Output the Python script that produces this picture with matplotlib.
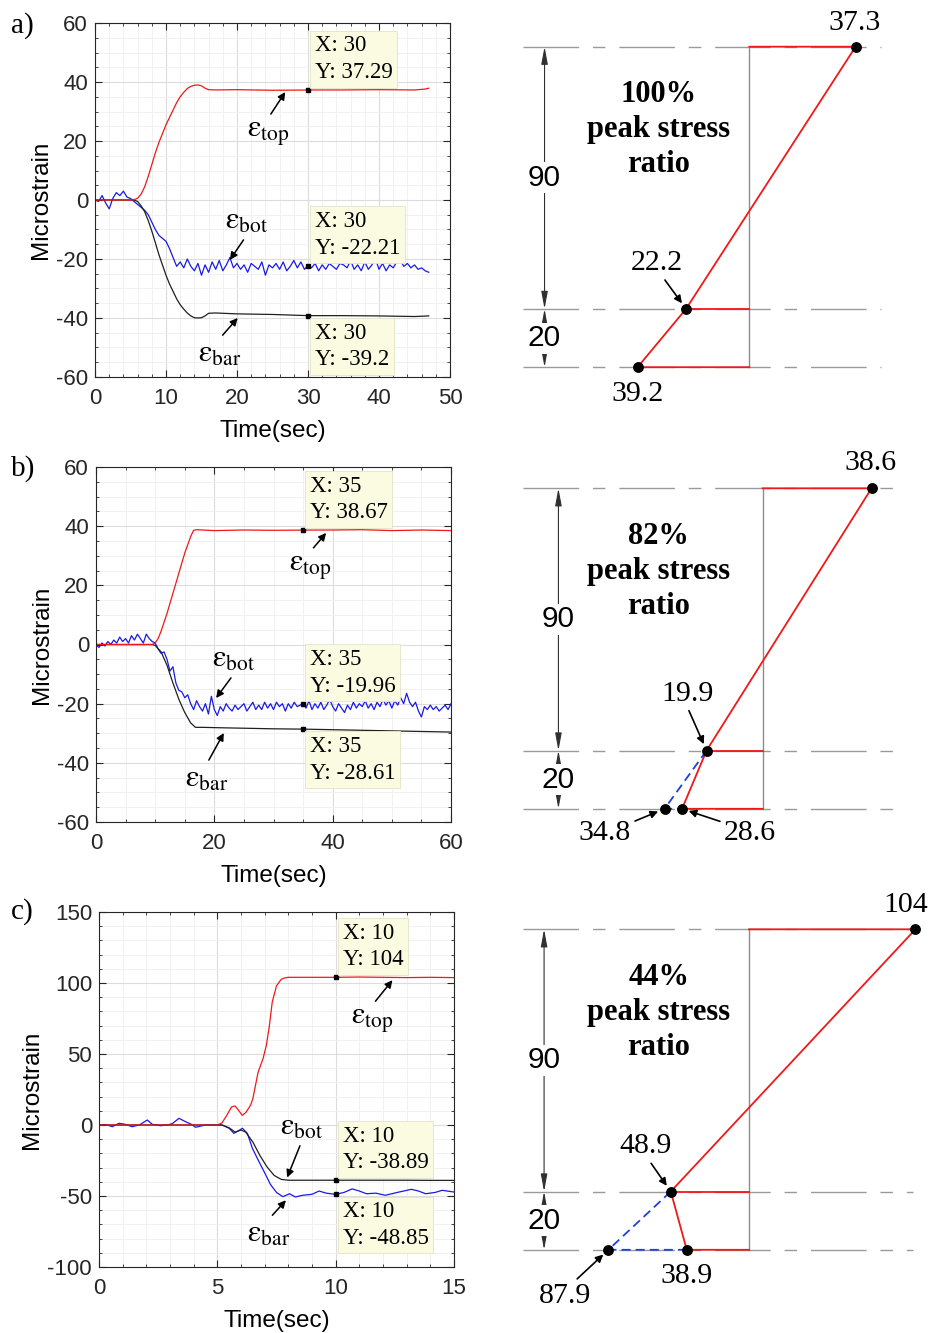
"""Strain histories (left) and strain profiles through the section (right)."""

import matplotlib

matplotlib.use("Agg")
import matplotlib.pyplot as plt
import matplotlib.transforms as mtransforms
import numpy as np
from matplotlib.ticker import AutoMinorLocator, MultipleLocator

W, H, DPI = 933, 1333, 100

plt.rcParams["font.family"] = ["Liberation Sans", "DejaVu Sans"]
plt.rcParams["mathtext.fontset"] = "stix"
plt.rcParams["axes.unicode_minus"] = False
SERIF = ["Liberation Serif", "DejaVu Serif"]

RED, BLUE, BLACK = "#f01818", "#1a1ae6", "#202020"

# ---------------- panel a: strain histories ----------------
T_TOP_A = [0, 5, 5.5, 6, 6.5, 7, 7.5, 8, 8.5, 9, 9.5, 10, 10.5, 11, 11.5, 12,
           12.5, 13, 13.5, 14, 14.5, 15, 15.5, 16, 17, 20, 25, 30, 35, 40, 45,
           46.5, 47]
EPS_TOP_A = [0, 0, 0.1, 0.6, 2, 4.5, 8, 12, 16, 19.5, 22.5, 25.5, 28, 30.5, 33,
             35, 36.5, 37.8, 38.5, 38.9, 39, 38.7, 37.9, 37.4, 37.3, 37.4, 37.2,
             37.29, 37.3, 37.4, 37.3, 37.6, 37.9]
T_BAR_A = [0, 5.5, 6, 6.5, 7, 7.5, 8, 8.5, 9, 9.5, 10, 10.5, 11, 11.5, 12, 12.5,
           13, 13.5, 14, 14.5, 15, 15.5, 16, 17, 20, 25, 30, 35, 40, 45, 47]
EPS_BAR_A = [0, 0, -0.5, -2, -4, -7, -10.5, -14.5, -18.5, -22, -25.5, -28.5,
             -31, -33.5, -35.5, -37, -38.3, -39.3, -39.9, -40, -39.9, -39.3,
             -38.4, -38.3, -38.6, -38.8, -39.2, -39.2, -39.3, -39.5, -39.3]
EPS_BOT_A = [0, -0.5, 1.5, -1, -3, 0.5, 2.5, 1.5, 3, 1,
             0.5, -0.5, -1.5, -2.5, -3.5, -5, -7.5, -10, -12, -13,
             -14, -16.5, -19.5, -22.5, -21, -23, -20, -22.5, -24, -21.5,
             -25.5, -22, -24.5, -21, -23.5, -20.5, -24, -22, -19.5, -23,
             -21.5, -23.5, -22, -24.5, -21.5, -22.5, -23.5, -21, -25.5, -22,
             -23, -21.5, -23.5, -21, -24, -22.5, -20.5, -23, -21, -23.5,
             -22.21, -23, -21.5, -24, -22, -23.5, -21.5, -22.5, -23.5, -21.5,
             -22, -23, -20.5, -23.5, -22, -24, -21, -23.5, -22, -20,
             -23.5, -21.5, -24, -22, -23, -21, -20.5, -22.5, -21.5, -23,
             -22, -23.5, -23, -24, -24.5]
T_BOT_A = np.arange(len(EPS_BOT_A)) * 0.5
TIPS_A = [37.29, -22.21, -39.2]

# ---------------- panel b ----------------
T_TOP_B = [0, 9.5, 10, 10.5, 11, 12, 13, 14, 15, 16, 16.5, 17, 20, 25, 30, 35,
           40, 45, 50, 55, 60]
EPS_TOP_B = [0, 0, 0.5, 2, 4.5, 10.5, 17.3, 24.1, 30.9, 36.5, 38.6, 38.8, 38.5,
             38.7, 38.6, 38.67, 38.7, 38.8, 38.5, 38.7, 38.5]
T_BAR_B = [0, 9.5, 10, 11, 12, 13, 14, 15, 16, 16.8, 18, 20, 25, 30, 35, 40,
           45, 50, 55, 60]
EPS_BAR_B = [0, 0, -0.3, -2.5, -7, -13, -18.5, -23, -26.5, -28, -28, -28.1,
             -28.3, -28.5, -28.61, -28.8, -29, -29.2, -29.4, -29.6]
EPS_BOT_B = [0, -1, 0.5, -0.5, 1, 0, 1.5, 0.5, 2.5, 1,
             2, 0.5, 3, 1.5, 3.5, 2, 0.5, 3.5, 2, 1,
             0.5, -1.5, -3, -2.5, -5, -9, -7.5, -13, -15.5, -16,
             -18, -17, -20, -22, -19, -21, -22.5, -20, -23.5, -17.5,
             -22, -24, -21, -22.5, -20, -21.5, -22.5, -20.5, -22, -21,
             -20, -22.5, -21, -19.5, -22, -20.5, -22, -19.5, -21.5, -20,
             -22, -19.5, -21, -20, -22.5, -20, -21.5, -19.5, -21, -20.5,
             -19.96, -21.5, -19, -22, -20, -21.5, -19.5, -22, -20.5, -18.5,
             -21, -22.5, -20, -21.5, -23, -20.5, -22, -19.5, -21.5, -20,
             -21, -19, -21.5, -20, -22, -19.5, -21, -18.5, -20.5, -19,
             -21.5, -19, -20.5, -18, -20, -16.5, -19.5, -21, -19.5, -22.5,
             -24.5, -21, -22, -20.5, -22, -21, -22.5, -21.5, -20.5, -22,
             -20]
T_BOT_B = np.arange(len(EPS_BOT_B)) * 0.5
TIPS_B = [38.67, -19.96, -28.61]

# ---------------- panel c ----------------
T_TOP_C = [0, 5, 5.2, 5.4, 5.6, 5.75, 5.9, 6.05, 6.2, 6.4, 6.5, 6.72, 6.93,
           7.07, 7.2, 7.32, 7.5, 7.7, 7.85, 8, 9, 10, 11, 12, 13, 14, 15]
EPS_TOP_C = [0, 0, 1.6, 6.8, 12.7, 13.4, 10.3, 6.8, 8.7, 13.8, 18.5, 37, 46.7,
             56, 70, 86.6, 98, 102.6, 103.6, 104, 104, 104, 104.2, 104, 103.8,
             104, 103.8]
T_BAR_C = [0, 5.2, 5.5, 5.75, 6.0, 6.2, 6.5, 6.8, 7.1, 7.4, 7.7, 8, 9, 10, 11,
           12, 13, 14, 15]
EPS_BAR_C = [0, 0, -2, -5, -3.5, -5, -12, -21.5, -29.5, -35.5, -38.3, -38.9,
             -38.9, -38.89, -38.9, -38.9, -38.9, -39, -39]
T_BOT_C = [0, 0.3, 0.56, 0.85, 1.1, 1.4, 1.7, 2.04, 2.25, 2.6,
           2.9, 3.1, 3.38, 3.66, 3.9, 4.08, 4.5, 4.93, 5.2, 5.5,
           5.7, 5.9, 6.06, 6.27, 6.48, 6.76, 7.04, 7.25, 7.5, 7.77,
           8.05, 8.3, 8.6, 9.0, 9.3, 9.6, 10, 10.35, 10.7, 11.0,
           11.3, 11.7, 12.1, 12.6, 13.2, 13.5, 13.8, 14.2, 14.5, 15]
EPS_BOT_C = [0, 0.3, -1.2, 1.2, 0.5, -1.2, 0, 3.5, 0.5, -0.5,
             0, 1, 4.7, 2.3, 0.5, -1.6, 0, 0, 0, -2.3,
             -5.9, -4, -2.3, -5.9, -16.4, -25.8, -35, -42, -47.5, -50.5,
             -48.4, -50.7, -49.5, -48.8, -46.5, -48, -48.85, -47.5, -45, -46.5,
             -48.4, -48, -49.5, -47.5, -45.3, -46.5, -48.4, -47.5, -46, -47.2]
TIPS_C = [104, -38.89, -48.85]

# ---------------- section strain profiles ----------------
DEPTHS = [0, 90, 110]          # top fibre, 90 below, 20 more to the bar
LAYERS = ["90", "20"]
PROFILE_A = [37.3, -22.2, -39.2]
PROFILE_B = [38.6, -19.9, -28.6]
PROFILE_C = [104, -48.9, -38.9]
BAR_ALT_B = -34.8
BAR_ALT_C = -87.9
RATIOS = ["100%", "82%", "44%"]

fig = plt.figure(figsize=(W / DPI, H / DPI), dpi=DPI)


def px_axes(x0, y0, x1, y1):
    return fig.add_axes([x0 / W, 1 - y1 / H, (x1 - x0) / W, (y1 - y0) / H])


def history_panel(rect, tag, tag_y, curves, xlim, xstep, xsub, ylim, ystep,
                  ysub, tip_x, tips, marks):
    ax = px_axes(*rect)
    for t, v, c in curves:
        ax.plot(t, v, color=c, lw=0.9)
    ax.set_xlim(xlim)
    ax.set_ylim(ylim)
    ax.xaxis.set_major_locator(MultipleLocator(xstep))
    ax.xaxis.set_minor_locator(AutoMinorLocator(xsub))
    ax.yaxis.set_major_locator(MultipleLocator(ystep))
    ax.yaxis.set_minor_locator(AutoMinorLocator(ysub))
    ax.grid(which="major", color="#dcdcdc", lw=0.8)
    ax.grid(which="minor", color="#efefef", lw=0.6)
    ax.set_axisbelow(True)
    ax.tick_params(which="both", direction="in", top=True, right=True,
                   colors="#262626", labelsize=16)
    ax.tick_params(which="major", length=5)
    ax.tick_params(which="minor", length=2.5)
    ax.tick_params(axis="x", pad=8)
    ax.tick_params(axis="y", pad=5)
    for s in ax.spines.values():
        s.set_color("#262626")
        s.set_linewidth(0.8)
    ax.set_xlabel("Time(sec)", fontsize=17.5, labelpad=8)
    ax.set_ylabel("Microstrain", fontsize=17.5, labelpad=3)

    for val, side in zip(tips, ["up", "up", "down"]):
        ax.plot([tip_x], [val], "s", color="k", ms=3.5, zorder=6)
        dy = 5 if side == "up" else -5
        ax.annotate(f"X: {tip_x:g}\nY: {val:g}", xy=(tip_x, val),
                    xytext=(5, dy), textcoords="offset points",
                    ha="left", va="bottom" if side == "up" else "top",
                    family=SERIF, fontsize=16.5, linespacing=1.35, zorder=7,
                    bbox=dict(boxstyle="square,pad=0.2", fc="#fbfbe2",
                              ec="#e4e4c8", lw=0.6))

    for name, txt_xy, head_xy in marks:
        rel = (0.5, 1) if txt_xy[1] < head_xy[1] else (0.5, 0)
        ax.annotate(rf"$\mathrm{{\varepsilon}}_{{\mathrm{{{name}}}}}$",
                    xy=head_xy, xytext=txt_xy, ha="center", va="center",
                    fontsize=22,
                    arrowprops=dict(arrowstyle="-|>", color="k", lw=1.1,
                                    mutation_scale=11, shrinkA=1, shrinkB=0,
                                    relpos=rel))
    fig.text(11 / W, 1 - tag_y / H, tag, family=SERIF, fontsize=21,
             ha="left", va="center")
    return ax


history_panel((95, 23, 450, 377), "a)", 26,
              [(T_BOT_A, EPS_BOT_A, BLUE), (T_BAR_A, EPS_BAR_A, BLACK),
               (T_TOP_A, EPS_TOP_A, RED)],
              (0, 50), 10, 5, (-60, 60), 20, 4, 30, TIPS_A,
              [("top", (24.4, 22.7), (26.8, 36.6)),
               ("bot", (21.3, -7.1), (19.0, -20.3)),
               ("bar", (17.5, -52.2), (20.1, -40.0))])
history_panel((96, 467, 451, 822), "b)", 469,
              [(T_BOT_B, EPS_BOT_B, BLUE), (T_BAR_B, EPS_BAR_B, BLACK),
               (T_TOP_B, EPS_TOP_B, RED)],
              (0, 60), 20, 4, (-60, 60), 20, 4, 35, TIPS_B,
              [("top", (36.2, 26.3), (38.9, 37.7)),
               ("bot", (23.3, -4.9), (20.3, -18.1)),
               ("bar", (18.7, -45.5), (21.6, -29.9))])
history_panel((99, 912, 454, 1267), "c)", 912,
              [(T_BOT_C, EPS_BOT_C, BLUE), (T_BAR_C, EPS_BAR_C, BLACK),
               (T_TOP_C, EPS_TOP_C, RED)],
              (0, 15), 5, 5, (-100, 150), 50, 5, 10, TIPS_C,
              [("top", (11.55, 73.9), (12.4, 102)),
               ("bot", (8.56, -1.2), (7.95, -37)),
               ("bar", (7.18, -76.8), (7.9, -53))])


def profile_panel(y0, y1, top_px, zero_px, sx, line_span, dim_fx, profile,
                  ratio, label_specs, alt=None):
    ax = px_axes(470, y0, 933, y1)
    sy = 320.5 / DEPTHS[-1]
    ax.set_xlim((470 - zero_px) / sx, (933 - zero_px) / sx)
    ax.set_ylim((y1 - top_px) / sy, (y0 - top_px) / sy)
    ax.axis("off")
    top, mid, bot = profile

    for d in DEPTHS:
        ax.axhline(d, xmin=line_span[0], xmax=line_span[1], color="#9a9a9a",
                   lw=1.0, dashes=(40, 10, 9, 10), zorder=1)
    ax.plot([0, 0], [DEPTHS[0], DEPTHS[-1]], color="#8c8c8c", lw=1.0, zorder=2)
    ax.plot([0, top, mid, bot, 0], [DEPTHS[0], DEPTHS[0], DEPTHS[1],
                                    DEPTHS[2], DEPTHS[2]],
            color=RED, lw=1.3, zorder=3)
    ax.plot([mid, 0], [DEPTHS[1], DEPTHS[1]], color=RED, lw=1.3, zorder=3)
    dots_x = [top, mid, bot]
    dots_y = list(DEPTHS)
    if alt is not None:
        ax.plot([mid, alt, bot], [DEPTHS[1], DEPTHS[2], DEPTHS[2]],
                color="#1f3fe0", lw=1.3, dashes=(5, 2.8), zorder=3)
        dots_x.append(alt)
        dots_y.append(DEPTHS[2])
    ax.plot(dots_x, dots_y, "o", color="k", ms=6.8, zorder=5)

    trans = mtransforms.blended_transform_factory(ax.transAxes, ax.transData)
    for (d0, d1), name in zip(zip(DEPTHS[:-1], DEPTHS[1:]), LAYERS):
        ax.annotate("", xy=(dim_fx, d0), xytext=(dim_fx, d1), xycoords=trans,
                    textcoords=trans,
                    arrowprops=dict(arrowstyle="<|-|>,head_length=0.75,"
                                    "head_width=0.14", color="#303030",
                                    lw=0.8, shrinkA=0, shrinkB=0,
                                    mutation_scale=14))
        ax.text(dim_fx, (d0 + d1) / 2, name, transform=trans, ha="center",
                va="center", fontsize=21.5, zorder=4,
                bbox=dict(boxstyle="square,pad=0.05", fc="white", ec="none"))

    ax.text(0.408, 28.5, f"{ratio}\npeak stress\nratio", transform=trans,
            ha="center", va="center", family=SERIF, fontweight="bold",
            fontsize=22, linespacing=1.27)

    for (x, d), (dx, dy, rel) in label_specs:
        arrow = None
        if rel is not None:
            arrow = dict(arrowstyle="-|>", color="k", lw=1.2,
                         mutation_scale=11, shrinkA=1, shrinkB=5, relpos=rel)
        ax.annotate(f"{abs(x):g}", xy=(x, d), xytext=(dx, dy),
                    textcoords="offset points", ha="center", va="center",
                    family=SERIF, fontsize=21.5, arrowprops=arrow)
    return ax


A, B, C = PROFILE_A, PROFILE_B, PROFILE_C
profile_panel(0, 410, 46.7, 749.3, 2.85, (0.114, 0.888), 0.161, A, RATIOS[0],
              [((A[0], DEPTHS[0]), (-1, 17, None)),
               ((A[1], DEPTHS[1]), (-21, 33, (0.6, 0))),
               ((A[2], DEPTHS[2]), (0, -19, None))])
profile_panel(440, 860, 488.3, 762.7, 2.82, (0.115, 0.914), 0.191, B,
              RATIOS[1],
              [((B[0], DEPTHS[0]), (-1, 18, None)),
               ((B[1], DEPTHS[1]), (-14, 41, (0.5, 0))),
               ((BAR_ALT_B, DEPTHS[2]), (-43, -17.5, (1, 0.9))),
               ((B[2], DEPTHS[2]), (49, -17.5, (0, 0.9)))],
              alt=BAR_ALT_B)
profile_panel(880, 1333, 929.3, 749.0, 1.6, (0.115, 0.957), 0.160, C,
              RATIOS[2],
              [((C[0], DEPTHS[0]), (-7, 17.5, None)),
               ((C[1], DEPTHS[1]), (-18, 32.5, (0.55, 0))),
               ((BAR_ALT_C, DEPTHS[2]), (-31, -33, (0.65, 1))),
               ((C[2], DEPTHS[2]), (0, -19, None))],
              alt=BAR_ALT_C)

fig.savefig("out.png", dpi=DPI)
